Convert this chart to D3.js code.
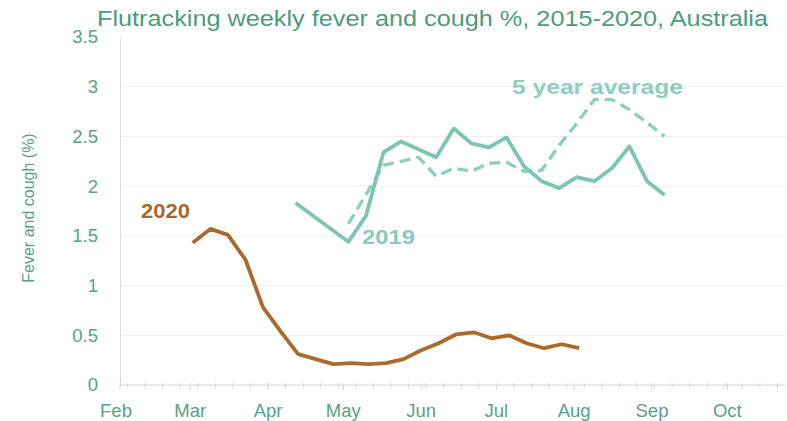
<!DOCTYPE html>
<html>
<head>
<meta charset="utf-8">
<script src="https://cdn.jsdelivr.net/npm/d3@7"></script>
<style>
  body { margin: 0; background: #fff; }
  text { font-family: "Liberation Sans", Arial, sans-serif; }
</style>
</head>
<body>
<div id="app"></div>
<script>
// weekly values, dates as month-day
const weeks2020 = ['03-02', '03-09', '03-16', '03-23', '03-30', '04-06', '04-13', '04-20', '04-27', '05-04', '05-11', '05-18',
  '05-25', '06-01', '06-08', '06-15', '06-22', '06-29', '07-06', '07-13', '07-20', '07-27', '08-03'];
const values2020 = [1.43, 1.57, 1.51, 1.26, 0.78, 0.54, 0.31, 0.26, 0.21, 0.22, 0.21, 0.22,
  0.26, 0.35, 0.42, 0.51, 0.53, 0.47, 0.50, 0.42, 0.37, 0.41, 0.37];

const weeks2019 = ['04-12', '05-03', '05-10', '05-17', '05-24', '06-07', '06-14', '06-21', '06-28', '07-05',
  '07-12', '07-19', '07-26', '08-02', '08-09', '08-16', '08-23', '08-30', '09-06'];
const values2019 = [1.83, 1.44, 1.70, 2.34, 2.45, 2.29, 2.58, 2.43, 2.39, 2.49,
  2.20, 2.05, 1.98, 2.09, 2.05, 2.18, 2.40, 2.05, 1.91];

const weeksAvg = ['05-03', '05-17', '05-24', '05-31', '06-07', '06-14', '06-21', '06-28', '07-05',
  '07-12', '07-19', '07-26', '08-02', '08-09', '08-16', '08-23', '08-30', '09-06'];
const valuesAvg = [1.62, 2.21, 2.25, 2.29, 2.10, 2.18, 2.15, 2.23, 2.24,
  2.15, 2.16, 2.41, 2.63, 2.87, 2.87, 2.77, 2.64, 2.50];

const monthTicks = ['02-01', '03-01', '04-01', '05-01', '06-01', '07-01', '08-01', '09-01', '10-01'];
const yTicks = [0, 0.5, 1, 1.5, 2, 2.5, 3, 3.5];

const width = 787;
const height = 421;
const parse = d3.timeParse('%m-%d');

const green = '#5aa088';
const teal = '#7cc4b3';
const tealLight = '#8fcebf';
const brown = '#a96a2c';

const svg = d3.select('#app').append('svg').attr('width', width).attr('height', height);

const x = d3.scaleTime([parse('02-01'), parse('10-24')], [120, 785]);
const y = d3.scaleLinear([0, 3.5], [385, 37]);

// gridlines
svg.append('g')
  .selectAll('line')
  .data(yTicks.filter(d => d > 0 && d < 3.5))
  .join('line')
  .attr('x1', 120).attr('x2', 785)
  .attr('y1', d => y(d)).attr('y2', d => y(d))
  .attr('stroke', '#efefef');

// y axis
const yAxis = svg.append('g')
  .attr('transform', 'translate(120,0)')
  .call(d3.axisLeft(y).tickValues(yTicks).tickFormat(d3.format('')).tickSize(0).tickPadding(22));
yAxis.select('.domain').attr('stroke', '#dcdcdc');
yAxis.selectAll('text').attr('fill', green).attr('font-size', 18.5).attr('font-family', 'Liberation Sans, Arial, sans-serif');

// x axis
const xg = svg.append('g').attr('transform', 'translate(0,385)');
xg.append('line').attr('x1', 120).attr('x2', 785).attr('stroke', '#d6d6d6');
xg.selectAll('line.minor')
  .data(x.ticks(d3.timeWeek))
  .join('line')
  .attr('class', 'minor')
  .attr('x1', d => x(d)).attr('x2', d => x(d))
  .attr('y1', -2).attr('y2', 3)
  .attr('stroke', '#d6d6d6');
xg.selectAll('line.major')
  .data(monthTicks.map(parse))
  .join('line')
  .attr('class', 'major')
  .attr('x1', d => x(d)).attr('x2', d => x(d))
  .attr('y1', -2).attr('y2', 5)
  .attr('stroke', '#d6d6d6');
xg.selectAll('text')
  .data(monthTicks.map(parse))
  .join('text')
  .attr('x', (d, i) => x(d) - (i === 0 ? 4 : 0))
  .attr('y', 32)
  .attr('text-anchor', 'middle')
  .attr('fill', green)
  .attr('font-size', 18.5)
  .text(d3.timeFormat('%b'));

// axis title
svg.append('text')
  .attr('transform', 'translate(34,208) rotate(-90)')
  .attr('text-anchor', 'middle')
  .attr('fill', green)
  .attr('font-size', 16)
  .text('Fever and cough (%)');

// title
svg.append('text')
  .attr('x', 97).attr('y', 26)
  .attr('fill', '#4e9a7f')
  .attr('font-size', 22.5)
  .attr('textLength', 671)
  .attr('lengthAdjust', 'spacingAndGlyphs')
  .text('Flutracking weekly fever and cough %, 2015-2020, Australia');

const line = d3.line().x(d => x(parse(d[0]))).y(d => y(d[1]));

svg.append('path')
  .datum(d3.zip(weeksAvg, valuesAvg))
  .attr('d', line)
  .attr('fill', 'none')
  .attr('stroke', tealLight)
  .attr('stroke-width', 3.4)
  .attr('stroke-dasharray', '11,6');

svg.append('path')
  .datum(d3.zip(weeks2019, values2019))
  .attr('d', line)
  .attr('fill', 'none')
  .attr('stroke', teal)
  .attr('stroke-width', 3.8)
  .attr('stroke-linejoin', 'round');

svg.append('path')
  .datum(d3.zip(weeks2020, values2020))
  .attr('d', line)
  .attr('fill', 'none')
  .attr('stroke', brown)
  .attr('stroke-width', 3.8)
  .attr('stroke-linejoin', 'round');

// series labels
const labels = [
  { text: '2020', x: 141, y: 217.5, len: 49, color: brown },
  { text: '2019', x: 362, y: 243.5, len: 53, color: '#8acabc' },
  { text: '5 year average', x: 512, y: 93.5, len: 171, color: tealLight }
];
svg.selectAll('text.series')
  .data(labels)
  .join('text')
  .attr('class', 'series')
  .attr('x', d => d.x).attr('y', d => d.y)
  .attr('fill', d => d.color)
  .attr('font-size', 19.5)
  .attr('font-weight', 'bold')
  .attr('textLength', d => d.len)
  .attr('lengthAdjust', 'spacingAndGlyphs')
  .text(d => d.text);
</script>
</body>
</html>
